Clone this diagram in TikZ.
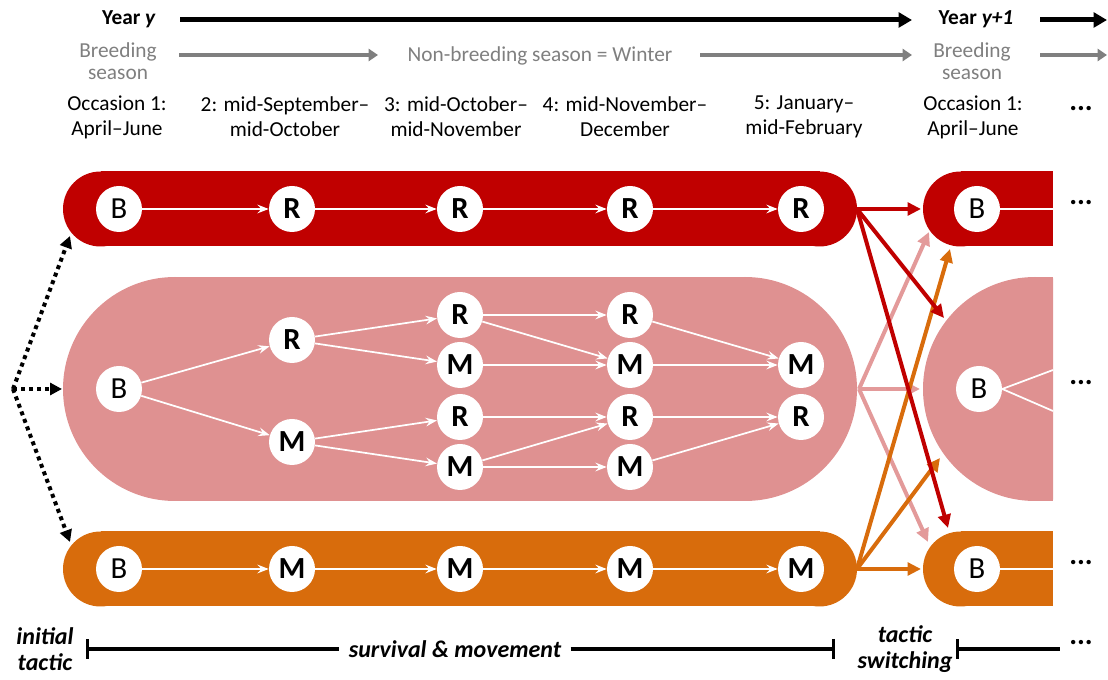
\documentclass[tikz,border=0pt]{standalone}
\usepackage{fontspec}
\setmainfont{Carlito}
\usetikzlibrary{arrows.meta}
\definecolor{tacR}{HTML}{C00000}
\definecolor{tacP}{HTML}{DF9191}
\definecolor{tacPa}{HTML}{E39A9A}
\definecolor{tacO}{HTML}{D86C0C}
\definecolor{hdgray}{HTML}{7F7F7F}
\begin{document}
\begin{tikzpicture}[x=0.75pt,y=-0.75pt,
  st/.style={circle,fill=white,minimum size=34.5pt,inner sep=0pt,
    font=\fontsize{23}{23}\selectfont},
  stb/.style={st,font=\fontsize{23}{23}\selectfont\bfseries},
  flow/.style={white,line width=1.3pt,-{Stealth[length=8.5pt,width=6.5pt,inset=3pt]}},
  trail/.style={white,line width=1.3pt},
  sw/.style={line width=3pt,-{Triangle[length=10pt,width=9.5pt]}},
  hdr/.style={font=\fontsize{16}{18.75}\selectfont,align=center,inner sep=0pt},
  gray hdr/.style={hdr,hdgray,font=\fontsize{16}{16.5}\selectfont},
  dots/.style={font=\fontsize{22}{22}\selectfont\bfseries,inner sep=0pt},
  lbl/.style={font=\fontsize{18}{19.5}\selectfont\bfseries\itshape,align=center,inner sep=0pt},
  timeline/.style={line width=3.75pt,-{Triangle[length=10pt,width=11pt]}},
  season/.style={hdgray,line width=3.5pt,-{Triangle[length=7pt,width=9pt]}},
  initarrow/.style={line width=3pt,dash pattern=on 3pt off 3pt,
    -{Triangle[length=9pt,width=9pt]}},
  span/.style={line width=2.6pt}
]
\useasboundingbox (0,0) rectangle (1108,680);

% ---------- header ----------
\node[hdr,font=\fontsize{16}{18.75}\selectfont\bfseries] (yr) at (129,19) {Year \textit{y}};
\node[hdr,font=\fontsize{16}{18.75}\selectfont\bfseries] (yr1) at (976,19) {Year \textit{y+1}};
\coordinate (tl0) at (180,20);
\coordinate (tl1) at (912,20);
\coordinate (tl2) at (1040,20);
\coordinate (tl3) at (1107,20);
\draw[timeline] (tl0) -- (tl1);
\draw[timeline] (tl2) -- (tl3);

\node[gray hdr] (bs) at (118,61) {Breeding\\season};
\node[gray hdr] (nbs) at (540,56) {Non-breeding season = Winter};
\node[gray hdr] (bs1) at (972,61) {Breeding\\season};
\coordinate (sa0) at (179,55);
\coordinate (sa1) at (378,55);
\coordinate (sa2) at (700,55);
\coordinate (sa3) at (912,55);
\coordinate (sa4) at (1040,55);
\coordinate (sa5) at (1107,55);
\draw[season] (sa0) -- (sa1);
\draw[season] (sa2) -- (sa3);
\draw[season] (sa4) -- (sa5);

\node[hdr] (oc1) at (117,117) {Occasion 1:\\April–June};
\node[hdr] (oc2) at (285,117) {2: mid-September–\\mid-October};
\node[hdr] (oc3) at (456,117) {3: mid-October–\\mid-November};
\node[hdr] (oc4) at (625,117) {4: mid-November–\\December};
\node[hdr] (oc5) at (804,117) {5: January–\\mid-February};
\node[hdr] (oc6) at (973,117) {Occasion 1:\\April–June};
\node[dots] (ocx) at (1081,109) {...};

% ---------- tactic bands, year y ----------
\fill[tacR] (100.5,171.5) rectangle (819.5,246.5);
\fill[tacR] (100.5,209) circle[radius=28.125pt];
\fill[tacR] (819.5,209) circle[radius=28.125pt];
\fill[tacP] (175,277) rectangle (745,501);
\fill[tacP] (175,389) circle[radius=84pt];
\fill[tacP] (745,389) circle[radius=84pt];
\fill[tacO] (100.5,531.5) rectangle (819.5,606.5);
\fill[tacO] (100.5,569) circle[radius=28.125pt];
\fill[tacO] (819.5,569) circle[radius=28.125pt];

% ---------- tactic bands, year y+1 ----------
\begin{scope}
  \clip (900,160) rectangle (1053,620);
  \fill[tacR] (960.5,171.5) rectangle (1053,246.5);
  \fill[tacR] (960.5,209) circle[radius=28.125pt];
  \fill[tacP] (1035,389) circle[radius=84pt];
  \fill[tacP] (1035,277) rectangle (1053,501);
  \fill[tacO] (960.5,531.5) rectangle (1053,606.5);
  \fill[tacO] (960.5,569) circle[radius=28.125pt];
\end{scope}

% ---------- states ----------
\node[st] (rB) at (119,209) {B};
\node[stb] (r2) at (292,209) {R};
\node[stb] (r3) at (460,209) {R};
\node[stb] (r4) at (630,209) {R};
\node[stb] (r5) at (801,209) {R};

\node[st] (pB) at (119,389) {B};
\node[stb] (p2R) at (292,340) {R};
\node[stb] (p2M) at (292,442) {M};
\node[stb] (p3Ra) at (460,315) {R};
\node[stb] (p3Ma) at (460,365) {M};
\node[stb] (p3Rb) at (460,417) {R};
\node[stb] (p3Mb) at (460,467) {M};
\node[stb] (p4Ra) at (630,315) {R};
\node[stb] (p4Ma) at (630,365) {M};
\node[stb] (p4Rb) at (630,417) {R};
\node[stb] (p4Mb) at (630,467) {M};
\node[stb] (p5M) at (801,365) {M};
\node[stb] (p5R) at (801,417) {R};

\node[st] (oB) at (119,569) {B};
\node[stb] (o2) at (292,569) {M};
\node[stb] (o3) at (460,569) {M};
\node[stb] (o4) at (630,569) {M};
\node[stb] (o5) at (801,569) {M};

\node[st] (nrB) at (977,209) {B};
\node[st] (npB) at (979,389) {B};
\node[st] (noB) at (977,569) {B};

% ---------- survival & movement ----------
\draw[flow] (rB) -- (r2);
\draw[flow] (r2) -- (r3);
\draw[flow] (r3) -- (r4);
\draw[flow] (r4) -- (r5);

\draw[flow] (pB) -- (p2R);
\draw[flow] (pB) -- (p2M);
\draw[flow] (p2R) -- (p3Ra);
\draw[flow] (p2R) -- (p3Ma);
\draw[flow] (p2M) -- (p3Rb);
\draw[flow] (p2M) -- (p3Mb);
\draw[flow] (p3Ra) -- (p4Ra);
\draw[flow] (p3Ra) -- (p4Ma);
\draw[flow] (p3Ma) -- (p4Ma);
\draw[flow] (p3Rb) -- (p4Rb);
\draw[flow] (p3Mb) -- (p4Rb);
\draw[flow] (p3Mb) -- (p4Mb);
\draw[flow] (p4Ra) -- (p5M);
\draw[flow] (p4Ma) -- (p5M);
\draw[flow] (p4Rb) -- (p5R);
\draw[flow] (p4Mb) -- (p5R);

\draw[flow] (oB) -- (o2);
\draw[flow] (o2) -- (o3);
\draw[flow] (o3) -- (o4);
\draw[flow] (o4) -- (o5);

% continuing transitions in year y+1
\coordinate (nrE) at (1053,209);
\coordinate (npEa) at (1053,370);
\coordinate (npEb) at (1053,411);
\coordinate (noE) at (1053,569);
\draw[trail] (nrB) -- (nrE);
\draw[trail] (npB.east) -- (npEa);
\draw[trail] (npB.east) -- (npEb);
\draw[trail] (noB) -- (noE);

% ---------- initial tactic ----------
\coordinate (init) at (13,389);
\coordinate (initR) at (70,236);
\coordinate (initP) at (62,389);
\coordinate (initO) at (70,542);
\draw[initarrow] (init) -- (initR);
\draw[initarrow] (init) -- (initP);
\draw[initarrow] (init) -- (initO);

% ---------- tactic switching ----------
\coordinate (rOut) at (857,209);
\coordinate (pOut) at (859,389);
\coordinate (oOut) at (857,569);
\coordinate (toRr) at (921,209);
\coordinate (toRp) at (929,232);
\coordinate (toRo) at (950,249);
\coordinate (toPr) at (944,318);
\coordinate (toPp) at (920,389);
\coordinate (toPo) at (940,458);
\coordinate (toOr) at (948,528);
\coordinate (toOp) at (928,542);
\coordinate (toOo) at (921,569);
\draw[sw,tacPa] (pOut) -- (toRp);
\draw[sw,tacPa] (pOut) -- (toPp);
\draw[sw,tacPa] (pOut) -- (toOp);
\draw[sw,tacO] (oOut) -- (toRo);
\draw[sw,tacO] (oOut) -- (toPo);
\draw[sw,tacO] (oOut) -- (toOo);
\draw[sw,tacR] (rOut) -- (toRr);
\draw[sw,tacR] (rOut) -- (toPr);
\draw[sw,tacR] (rOut) -- (toOr);

\node[dots] (rx) at (1081,203) {...};
\node[dots] (px) at (1081,383) {...};
\node[dots] (ox) at (1081,563) {...};

% ---------- model components ----------
\node[lbl] (ini) at (45,649) {initial\\tactic};
\node[lbl] (sm) at (455,649) {survival \& movement};
\node[lbl] (ts) at (905,649) {tactic\\switching};
\node[dots] (bx) at (1081,643) {...};
\coordinate (smL) at (86,649);
\coordinate (smR) at (835,649);
\coordinate (tsL) at (956,649);
\coordinate (tsR) at (1060,649);
\draw[span,{Bar[width=15pt]}-] (smL) -- ([xshift=-7pt]sm.west);
\draw[span,-{Bar[width=15pt]}] ([xshift=7pt]sm.east) -- (smR);
\draw[span,{Bar[width=15pt]}-] (tsL) -- (tsR);
\end{tikzpicture}
\end{document}
